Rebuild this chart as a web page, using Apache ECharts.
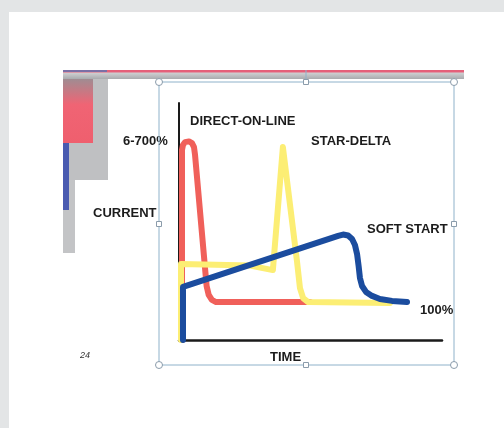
<!DOCTYPE html>
<html>
<head>
<meta charset="utf-8">
<script src="https://cdn.jsdelivr.net/npm/echarts@6/dist/echarts.min.js"></script>
<style>html,body{margin:0;padding:0;background:#e3e5e6}#c{width:504px;height:428px}</style>
</head>
<body>
<div id="c"></div>
<script>
// Time (0-100) and current (arbitrary units, 100% level ≈ 16)
const directOnLine = [[1.14,0],[1.14,80.2],[1.52,82.3],[2.28,83.5],[3.8,83.8],[4.94,83.1],[5.7,81.4],[6.1,78.1],[10.5,22.8],[11.3,19.0],[12.5,16.9],[14.1,16.0],[49.8,16.0]];
const starDelta = [[0.76,0],[0.76,32.1],[27.0,31.4],[35.7,29.5],[39.5,81.4],[44.9,32.9],[46.0,21.9],[47.2,17.7],[49.1,16.0],[80.2,15.6]];
const softStart = [[1.52,0],[1.52,22.4],[60.5,43.9],[62.4,44.5],[64.3,44.1],[65.8,42.6],[66.9,40.1],[67.7,36.3],[68.3,31.2],[68.8,26.2],[69.6,22.8],[71.1,20.3],[73.4,18.6],[76.4,17.3],[81.0,16.5],[86.7,16.0]];
const labels = {dol:'DIRECT-ON-LINE', sd:'STAR-DELTA', ss:'SOFT START', peak:'6-700%', nominal:'100%', yName:'CURRENT', xName:'TIME', page:'24'};

const chart = echarts.init(document.getElementById('c'), null, {renderer:'canvas'});
const txt = (x,y,t,extra) => ({type:'text', left:x, top:y, z:10, style:Object.assign({text:t, fill:'#1c1c1c', font:'bold 13px "Liberation Sans", Arial, sans-serif'}, extra||{})});
const handleC = (x,y) => ({type:'circle', shape:{cx:x,cy:y,r:3.5}, z:20, style:{fill:'#fff', stroke:'#8b9cab', lineWidth:1}});
const handleS = (x,y) => ({type:'rect', shape:{x:x-2.5,y:y-2.5,width:5,height:5}, z:20, style:{fill:'#fff', stroke:'#8b9cab', lineWidth:1}});
const lineStyle = (c) => ({color:c, width:6, cap:'round', join:'round'});

chart.setOption({
  backgroundColor:'#e3e5e6',
  animation:false,
  grid:{left:179, top:103, width:263, height:237},
  xAxis:{type:'value', min:0, max:100, axisLine:{show:true, onZero:false, lineStyle:{color:'#1a1a1a', width:2.5}}, axisTick:{show:false}, axisLabel:{show:false}, splitLine:{show:false}},
  yAxis:{type:'value', min:0, max:100, axisLine:{show:true, onZero:false, lineStyle:{color:'#1a1a1a', width:2}}, axisTick:{show:false}, axisLabel:{show:false}, splitLine:{show:false}},
  graphic:[
    {type:'rect', shape:{x:9,y:12,width:495,height:416}, z:-10, silent:true, style:{fill:'#ffffff'}},
    // decorative slide bars
    {type:'rect', shape:{x:63,y:72,width:401,height:7}, z:-5, style:{fill:new echarts.graphic.LinearGradient(0,0,0,1,[{offset:0,color:'#d4d5d7'},{offset:1,color:'#a9abae'}])}},
    {type:'rect', shape:{x:63,y:70,width:401,height:2.5}, z:-4, style:{fill:'#e5607a'}},
    {type:'rect', shape:{x:63,y:70,width:44,height:2}, z:-3, style:{fill:'#7b6fa6'}},
    {type:'rect', shape:{x:63,y:79,width:45,height:101}, z:-5, style:{fill:'#bfc0c2'}},
    {type:'rect', shape:{x:63,y:180,width:12,height:73}, z:-5, style:{fill:'#c3c4c6'}},
    {type:'rect', shape:{x:63,y:79,width:30,height:64}, z:-4, style:{fill:new echarts.graphic.LinearGradient(0,0,0,1,[{offset:0,color:'#a08c92'},{offset:0.4,color:'#f06474'},{offset:1,color:'#ef5f6e'}])}},
    {type:'rect', shape:{x:63,y:143,width:6,height:67}, z:-4, style:{fill:'#4a5bb0'}},
    // selection frame
    {type:'rect', shape:{x:159,y:82,width:295,height:283}, z:15, style:{fill:null, stroke:'#8fb2ca', lineWidth:1}},
    {type:'line', shape:{x1:306,y1:70,x2:306,y2:82}, z:15, style:{stroke:'#8fb2ca', lineWidth:1}},
    handleC(159,82), handleC(454,82), handleC(159,365), handleC(454,365),
    handleS(306,82), handleS(159,224), handleS(454,224), handleS(306,365),
    // texts
    txt(190,115,labels.dol),
    txt(123,135,labels.peak),
    txt(311,135,labels.sd),
    txt(93,207,labels.yName),
    txt(367,223,labels.ss),
    txt(420,304,labels.nominal),
    txt(270,351,labels.xName),
    txt(80,351,labels.page,{font:'italic 9px "Liberation Sans", Arial, sans-serif', fill:'#333'})
  ],
  series:[
    {type:'line', data:directOnLine, symbol:'none', lineStyle:lineStyle('#f0605a'), z:2},
    {type:'line', data:starDelta, symbol:'none', lineStyle:lineStyle('#fcee74'), z:3},
    {type:'line', data:softStart, symbol:'none', lineStyle:lineStyle('#1b4c9e'), z:4}
  ]
});
</script>
</body>
</html>
